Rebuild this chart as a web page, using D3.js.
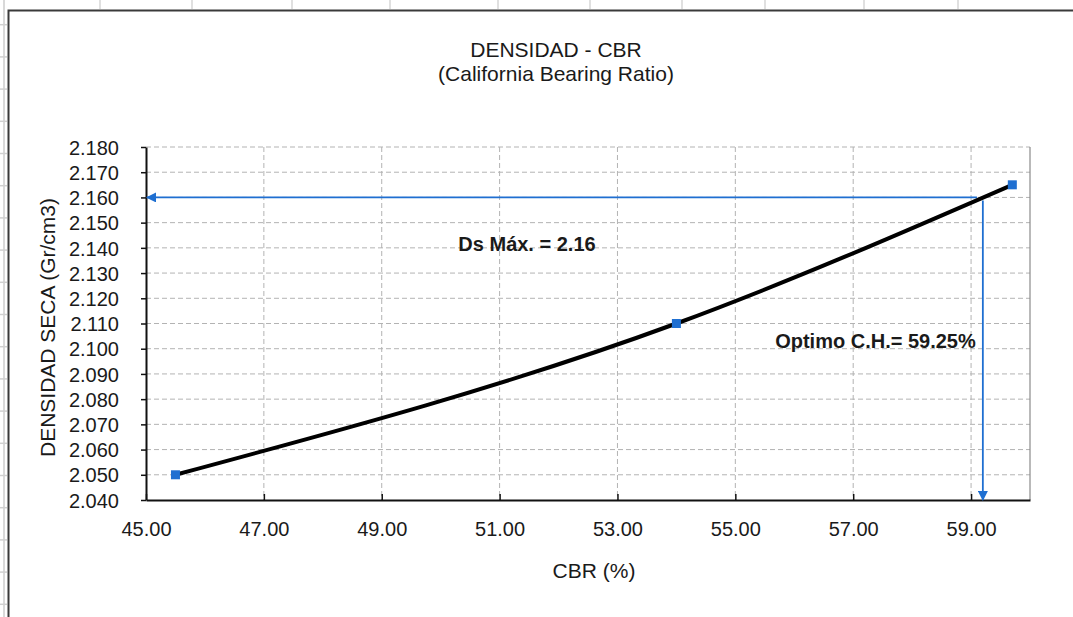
<!DOCTYPE html>
<html lang="es">
<head>
<meta charset="UTF-8">
<script src="https://d3js.org/d3.v7.min.js"></script>
<style>
  body { margin: 0; background: #fff; }
  text { font-family: "Liberation Sans", Arial, sans-serif; fill: #1a1a1a; }
</style>
</head>
<body>
<div id="chart"></div>
<script>
// data
const cbr = [45.5, 54.0, 59.7];
const densidad = [2.050, 2.110, 2.165];
const xTicks = [45, 47, 49, 51, 53, 55, 57, 59];
const yTicks = [2.04, 2.05, 2.06, 2.07, 2.08, 2.09, 2.10, 2.11, 2.12, 2.13, 2.14, 2.15, 2.16, 2.17, 2.18];
const dsMax = 2.16;
const optimoCBR = 59.2;
const titleLines = ["DENSIDAD - CBR", "(California Bearing Ratio)"];
const dsLabel = "Ds Máx. = 2.16";
const optLabel = "Optimo C.H.= 59.25%";

const w = 1073, h = 617;
const pLeft = 146, pRight = 1030, pTop = 147, pBottom = 500;
const blue = "#1f6fd1";

const svg = d3.select("#chart").append("svg")
    .attr("width", w).attr("height", h);

svg.append("rect").attr("width", w).attr("height", h).attr("fill", "#fff");

// spreadsheet cells behind the chart
const colLines = [100, 192, 292, 390, 498, 590, 682, 765, 864, 958];
svg.selectAll(".col").data(colLines).enter().append("line")
    .attr("x1", d => d).attr("x2", d => d).attr("y1", 0).attr("y2", 9)
    .attr("stroke", "#d6d6d6").attr("stroke-width", 1.5);
svg.append("line").attr("x1", 4).attr("x2", 4).attr("y1", 0).attr("y2", h)
    .attr("stroke", "#d9d9d9").attr("stroke-width", 2);
svg.selectAll(".row").data(d3.range(24.7, h, 32.2)).enter().append("line")
    .attr("x1", 0).attr("x2", 7).attr("y1", d => d).attr("y2", d => d)
    .attr("stroke", "#d0d0d0").attr("stroke-width", 1.5);

// chart frame
svg.append("rect")
    .attr("x", 8.5).attr("y", 10.5).attr("width", w + 10).attr("height", h + 10)
    .attr("fill", "#fff").attr("stroke", "#3a3a3a").attr("stroke-width", 2);

const x = d3.scaleLinear().domain([45, 60]).range([pLeft, pRight]);
const y = d3.scaleLinear().domain([2.04, 2.18]).range([pBottom, pTop]);

// grid
svg.append("g").selectAll("line").data(yTicks.slice(1)).enter().append("line")
    .attr("x1", pLeft).attr("x2", pRight)
    .attr("y1", d => y(d)).attr("y2", d => y(d))
    .attr("stroke", "#b3b3b3").attr("stroke-dasharray", "5,3");
svg.append("g").selectAll("line").data(xTicks.slice(1)).enter().append("line")
    .attr("x1", d => x(d)).attr("x2", d => x(d))
    .attr("y1", pTop).attr("y2", pBottom)
    .attr("stroke", "#b3b3b3").attr("stroke-dasharray", "5,3");
svg.append("line").attr("x1", pRight).attr("x2", pRight).attr("y1", pTop).attr("y2", pBottom)
    .attr("stroke", "#8a8a8a").attr("stroke-width", 1.2);

// axes
const xAxis = d3.axisBottom(x).tickValues(xTicks).tickFormat(d3.format(".2f"))
    .tickSizeInner(-6).tickSizeOuter(0).tickPadding(22);
const yAxis = d3.axisLeft(y).tickValues(yTicks).tickFormat(d3.format(".3f"))
    .tickSizeInner(5).tickSizeOuter(0).tickPadding(22);

const gx = svg.append("g").attr("transform", "translate(0," + pBottom + ")").call(xAxis);
const gy = svg.append("g").attr("transform", "translate(" + pLeft + ",0)").call(yAxis);
[gx, gy].forEach(g => {
    g.select(".domain").attr("stroke", "#111").attr("stroke-width", 2);
    g.selectAll(".tick line").attr("stroke", "#111").attr("stroke-width", 1.5);
    g.selectAll(".tick text").style("font-size", "20px")
        .style("font-family", "'Liberation Sans', Arial, sans-serif").attr("fill", "#1a1a1a");
});
gy.selectAll(".tick text").attr("x", -27).attr("dy", "0.36em");

// arrows
const defs = svg.append("defs");
defs.append("marker").attr("id", "arr")
    .attr("viewBox", "0 0 10 10").attr("refX", 9).attr("refY", 5)
    .attr("markerWidth", 11).attr("markerHeight", 10)
    .attr("markerUnits", "userSpaceOnUse").attr("orient", "auto")
    .append("path").attr("d", "M0,0 L10,5 L0,10 Z").attr("fill", blue);

svg.append("line")
    .attr("x1", x(59.1)).attr("y1", y(dsMax)).attr("x2", x(45) + 1).attr("y2", y(dsMax))
    .attr("stroke", blue).attr("stroke-width", 1.8).attr("marker-end", "url(#arr)");
svg.append("line")
    .attr("x1", x(optimoCBR)).attr("y1", y(dsMax) + 3).attr("x2", x(optimoCBR)).attr("y2", y(2.04))
    .attr("stroke", blue).attr("stroke-width", 1.8).attr("marker-end", "url(#arr)");

// trend curve
const pts = cbr.map((d, i) => [d, densidad[i]]);
svg.append("path")
    .datum(pts)
    .attr("d", d3.line().x(d => x(d[0])).y(d => y(d[1])).curve(d3.curveMonotoneX))
    .attr("fill", "none").attr("stroke", "#000").attr("stroke-width", 4)
    .attr("stroke-linecap", "round");

// points
svg.selectAll(".pt").data(pts).enter().append("rect")
    .attr("x", d => x(d[0]) - 4.5).attr("y", d => y(d[1]) - 4.5)
    .attr("width", 9).attr("height", 9).attr("fill", blue);

// titles
svg.append("text").attr("x", 556).attr("y", 57).attr("text-anchor", "middle")
    .style("font-size", "21px").text(titleLines[0]);
svg.append("text").attr("x", 556).attr("y", 81).attr("text-anchor", "middle")
    .style("font-size", "21px").text(titleLines[1]);

svg.append("text").attr("x", 594).attr("y", 578).attr("text-anchor", "middle")
    .style("font-size", "21px").text("CBR (%)");
svg.append("text")
    .attr("transform", "translate(55," + ((pTop + pBottom) / 2 + 4) + ") rotate(-90)")
    .attr("text-anchor", "middle").style("font-size", "21px")
    .text("DENSIDAD SECA (Gr/cm3)");

// annotations
svg.append("text").attr("x", x(50.3)).attr("y", 251)
    .style("font-size", "20px").style("font-weight", "bold").text(dsLabel);
svg.append("text").attr("x", x(59.08)).attr("y", 348).attr("text-anchor", "end")
    .style("font-size", "20px").style("font-weight", "bold").text(optLabel);
</script>
</body>
</html>
